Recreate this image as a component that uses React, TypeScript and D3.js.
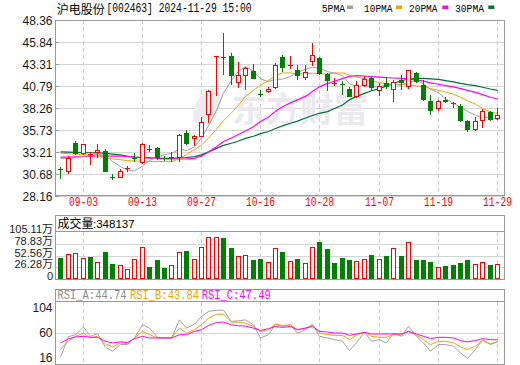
import React from "react";
import * as d3 from "d3";

// trading days shown (08-29 .. 11-29)
const dates = [
  "08-29", "08-30", "09-02", "09-03", "09-04", "09-05", "09-06", "09-09", "09-10", "09-11",
  "09-12", "09-13", "09-18", "09-19", "09-20", "09-23", "09-24", "09-25", "09-26", "09-27",
  "09-30", "10-08", "10-09", "10-10", "10-11", "10-14", "10-15", "10-16", "10-17", "10-18",
  "10-21", "10-22", "10-23", "10-24", "10-25", "10-28", "10-29", "10-30", "10-31", "11-01",
  "11-04", "11-05", "11-06", "11-07", "11-08", "11-11", "11-12", "11-13", "11-14", "11-15",
  "11-18", "11-19", "11-20", "11-21", "11-22", "11-25", "11-26", "11-27", "11-28", "11-29",
];
const dateTicks = ["09-03", "09-13", "09-27", "10-16", "10-28", "11-07", "11-19", "11-29"];

const open = [
  31.18, 30.84, 34.22, 32.92, 32.95, 33.03, 33.3, 30.3, 30.23, 31.22,
  32.5, 31.88, 33.5, 33.65, 32.55, 32.45, 32.45, 35.37, 34.65, 34.95,
  37.45, 44.2, 44.05, 44.29, 41.1, 42.0, 42.56, 39.85, 40.14, 40.53,
  44.18, 43.1, 42.64, 41.68, 43.52, 44.06, 42.14, 41.05, 41.0, 40.45,
  39.56, 40.83, 41.68, 40.22, 41.1, 40.33, 41.49, 40.72, 42.26, 40.91,
  39.06, 38.14, 39.2, 38.85, 38.53, 36.76, 35.72, 36.76, 37.83, 36.95,
];
const high = [
  31.5, 32.7, 34.45, 34.15, 33.22, 34.11, 33.53, 30.61, 31.22, 31.61,
  33.03, 34.22, 33.99, 33.75, 32.76, 33.22, 35.3, 35.72, 35.2, 37.26,
  40.33, 44.24, 46.87, 44.56, 43.52, 43.02, 43.29, 40.33, 40.72, 43.41,
  44.37, 44.29, 43.22, 43.22, 45.71, 44.18, 42.26, 41.68, 41.37, 40.72,
  41.37, 41.99, 41.87, 41.1, 41.87, 41.49, 42.06, 42.68, 42.37, 41.49,
  39.76, 39.18, 39.56, 38.99, 38.68, 36.87, 37.26, 38.14, 37.91, 38.22,
];
const low = [
  30.07, 30.69, 32.84, 32.84, 31.69, 32.45, 30.84, 29.96, 30.15, 30.92,
  32.07, 31.8, 33.22, 32.3, 32.19, 32.07, 32.07, 34.0, 33.88, 34.88,
  36.49, 39.6, 42.06, 40.91, 40.6, 40.33, 41.55, 39.56, 39.95, 40.45,
  42.45, 42.75, 41.49, 41.49, 43.14, 42.06, 40.22, 40.83, 39.8, 39.5,
  39.37, 40.72, 40.22, 39.68, 40.45, 38.91, 40.33, 40.45, 41.1, 39.06,
  37.45, 37.91, 38.8, 38.22, 36.7, 35.45, 35.6, 35.99, 36.76, 36.87,
];
const close = [
  31.1, 32.53, 32.92, 34.07, 33.0, 33.41, 30.92, 30.2, 30.99, 31.3,
  32.42, 34.07, 33.42, 32.55, 32.45, 32.65, 35.15, 34.11, 35.03, 36.61,
  40.22, 44.24, 44.18, 41.95, 42.05, 42.83, 41.6, 39.74, 40.45, 43.22,
  42.91, 43.25, 41.95, 42.37, 44.37, 42.14, 41.41, 41.15, 40.9, 39.56,
  40.91, 41.6, 40.53, 40.83, 40.72, 41.22, 41.1, 42.6, 41.29, 39.18,
  37.95, 39.06, 39.0, 38.75, 36.76, 35.72, 36.76, 37.91, 36.87, 37.45,
];
// volume in 万手
const volume = [
  47.9, 55.4, 57.7, 47.9, 49.4, 37.4, 60.6, 33.7, 30.7, 22.5,
  44.9, 71.1, 27.0, 42.7, 24.7, 30.7, 59.9, 62.9, 44.9, 71.1,
  93.6, 93.6, 92.1, 69.6, 50.9, 53.2, 42.7, 44.9, 37.4, 68.9,
  60.6, 39.7, 44.9, 35.2, 71.1, 83.1, 67.4, 35.9, 47.2, 42.7,
  40.4, 44.9, 53.9, 44.2, 51.7, 68.9, 51.7, 82.4, 42.7, 42.7,
  38.2, 26.2, 29.2, 31.4, 35.2, 42.7, 32.9, 37.4, 31.4, 34.81,
];

const ma5 = [
  32.45, 32.45, 32.55, 32.7, 32.75, 32.95, 32.8, 32.1, 31.5, 31.1,
  31.0, 31.55, 32.2, 32.6, 32.9, 33.0, 33.55, 33.35, 33.8, 34.8,
  36.2, 38.0, 39.96, 41.44, 42.51, 43.03, 42.51, 41.62, 41.31, 41.57,
  41.58, 41.91, 42.36, 42.74, 42.97, 42.82, 42.45, 42.29, 42.0, 41.03,
  40.79, 40.82, 40.7, 40.69, 40.92, 40.98, 40.88, 41.29, 41.39, 41.08,
  40.42, 40.02, 39.32, 38.81, 38.32, 37.88, 37.42, 37.18, 37.2, 36.94,
];
const ma10 = [
  33.05, 33.0, 32.95, 32.9, 32.8, 32.7, 32.55, 32.4, 32.3, 32.2,
  32.15, 32.12, 32.1, 32.1, 32.08, 32.07, 32.4, 32.9, 33.45, 34.0,
  34.8, 35.8, 36.8, 37.7, 38.6, 39.6, 40.3, 40.9, 41.4, 42.0,
  42.3, 42.3, 42.2, 42.2, 42.27, 42.2, 42.18, 42.3, 42.3, 42.05,
  41.85, 41.6, 41.4, 41.2, 41.05, 41.0, 40.95, 40.95, 40.8, 40.7,
  40.5, 40.3, 40.1, 39.85, 39.5, 39.1, 38.7, 38.2, 37.8, 37.63,
];
const ma20 = [
  32.6, 32.6, 32.62, 32.65, 32.68, 32.7, 32.72, 32.72, 32.7, 32.68,
  32.6, 32.55, 32.5, 32.45, 32.4, 32.38, 32.38, 32.4, 32.45, 32.7,
  33.2, 33.8, 34.4, 34.8, 35.2, 35.6, 36.1, 36.7, 37.2, 37.9,
  38.4, 38.85, 39.2, 39.6, 40.15, 40.7, 41.1, 41.35, 41.65, 41.9,
  42.0, 41.95, 41.88, 41.82, 41.76, 41.72, 41.68, 41.6, 41.5, 41.35,
  41.15, 41.0, 40.85, 40.7, 40.5, 40.3, 40.06, 39.8, 39.5, 39.3,
];
const ma30 = [
  33.2, 33.18, 33.15, 33.12, 33.1, 33.08, 33.05, 32.95, 32.85, 32.7,
  32.6, 32.55, 32.5, 32.48, 32.46, 32.46, 32.5, 32.55, 32.65, 32.85,
  33.2, 33.6, 33.95, 34.2, 34.45, 34.75, 35.0, 35.3, 35.55, 35.9,
  36.2, 36.5, 36.75, 37.1, 37.4, 37.65, 37.85, 38.2, 38.6, 39.2,
  39.6, 39.95, 40.25, 40.5, 40.8, 41.1, 41.4, 41.6, 41.68, 41.68,
  41.62, 41.55, 41.42, 41.28, 41.1, 40.95, 40.83, 40.65, 40.45, 40.3,
];

const rsiA = [
  17.1, 53.0, 56.5, 69.9, 53.6, 58.3, 34.5, 27.5, 39.1, 39.1,
  50.7, 73.9, 68.1, 51.9, 50.7, 50.7, 82.6, 68.1, 75.1, 88.4,
  97.5, 99.5, 99.5, 79.7, 80.9, 82.6, 73.9, 50.7, 56.5, 75.1,
  71.0, 73.9, 59.4, 65.2, 75.1, 53.6, 50.7, 47.8, 44.9, 28.7,
  42.0, 61.2, 44.9, 47.8, 42.0, 59.4, 53.6, 71.0, 53.6, 42.0,
  27.5, 39.1, 39.1, 36.2, 24.7, 14.8, 30.4, 47.8, 39.1, 44.74,
];
const rsiB = [
  30.4, 46.1, 53.6, 59.4, 50.7, 53.6, 40.3, 35.1, 42.0, 40.9,
  50.7, 62.3, 56.5, 50.7, 50.7, 50.7, 68.1, 59.4, 65.2, 73.9,
  85.5, 92.5, 92.5, 78.6, 78.6, 76.8, 71.0, 62.3, 65.2, 75.1,
  72.8, 73.9, 65.2, 68.1, 72.8, 59.4, 56.5, 55.4, 55.4, 47.8,
  55.4, 61.2, 53.6, 51.9, 51.9, 56.5, 56.5, 62.3, 55.4, 47.8,
  39.1, 44.9, 44.9, 42.0, 35.1, 30.4, 36.2, 46.1, 40.3, 43.84,
];
const rsiC = [
  42.0, 49.0, 52.5, 53.6, 51.9, 51.9, 44.9, 42.0, 43.8, 42.6,
  49.6, 53.6, 50.7, 50.7, 50.7, 50.7, 56.5, 56.5, 62.3, 65.2,
  72.8, 78.0, 78.6, 73.9, 72.2, 71.6, 68.1, 64.0, 67.0, 71.0,
  69.3, 71.0, 65.2, 68.1, 71.0, 62.3, 61.2, 59.4, 59.4, 55.4,
  57.7, 60.6, 57.7, 57.7, 57.7, 57.7, 57.7, 62.3, 57.7, 53.6,
  49.6, 51.9, 51.9, 50.7, 46.1, 43.8, 46.1, 49.6, 47.8, 47.49,
];

const priceTicks = ["48.36", "45.84", "43.31", "40.79", "38.26", "35.73", "33.21", "30.68", "28.16"];
const volTicks = [105.11, 78.83, 52.56, 26.28, 0];
const volTickLabels = ["105.11万", "78.83万", "52.56万", "26.28万", "0"];
const rsiTicks = [104, 60, 16];

const RED = "#ff0000";
const GREEN = "#008000";
const C5 = "#a0a0a0";
const C10 = "#f5a000";
const C20 = "#ff00ff";
const C30 = "#00703a";
const FRAME = "#999999";
const GRID = "#d4d4d4";
const MONO = "'Liberation Mono', monospace";
const SANS = "'Liberation Sans', Arial, sans-serif";
const CJK = "'Noto Sans CJK SC', sans-serif";

const L = 55;
const R = 505;

export default function App() {
  const x = d3.scaleBand<string>().domain(dates).range([56.6, 500.6]);
  const cx = (i: number) => Math.round(x(dates[i])! + x.bandwidth() / 2);
  const yP = d3.scaleLinear().domain([28.16, 48.36]).range([195.6, 20.4]);
  const yV = d3.scaleLinear().domain([0, 105.11]).range([279, 232.2]);
  const yR = d3.scaleLinear().domain([16, 104]).range([357.7, 307.7]);

  const mkLine = (scale: d3.ScaleLinear<number, number>, arr: number[]) =>
    d3
      .line<number>()
      .x((_, i) => cx(i) + 0.5)
      .y((v) => scale(v))(arr) || "";

  const dashX = dateTicks.map((d) => Math.round(x(d)! + x.bandwidth() / 2) + 0.5);

  return (
    <svg
      width={520}
      height={365}
      style={{ position: "absolute", left: 0, top: 0, background: "#fff" }}
    >
      <rect x={0} y={0} width={520} height={365} fill="#fff" />

      {/* title */}
      <text x={56.7} y={13.5} fontSize={12} fontFamily={CJK} fill="#000">
        沪电股份
      </text>
      <text
        x={106.5}
        y={12}
        fontSize={12}
        fontFamily={MONO}
        fill="#000"
        textLength={145}
        lengthAdjust="spacingAndGlyphs"
      >
        [002463] 2024-11-29 15:00
      </text>

      {/* legend */}
      {[
        { t: "5PMA", x0: 321.7, w: 23.5, sx: 347, c: C5 },
        { t: "10PMA", x0: 364, w: 28.5, sx: 396, c: C10 },
        { t: "20PMA", x0: 409, w: 28.5, sx: 442.3, c: C20 },
        { t: "30PMA", x0: 455, w: 29, sx: 488.3, c: C30 },
      ].map((d) => (
        <g key={d.t}>
          <text
            x={d.x0}
            y={11.5}
            fontSize={11}
            fontFamily={MONO}
            fill="#000"
            textLength={d.w}
            lengthAdjust="spacingAndGlyphs"
          >
            {d.t}
          </text>
          <rect x={d.sx} y={5.5} width={6} height={3.5} fill={d.c} />
        </g>
      ))}

      {/* main price panel grid */}
      {priceTicks.map((t) => (
        <line key={t} x1={L} x2={R} y1={Math.round(yP(+t)) + 0.5} y2={Math.round(yP(+t)) + 0.5} stroke={GRID} />
      ))}
      {dashX.map((xx, k) => (
        <line key={k} x1={xx} x2={xx} y1={20} y2={196} stroke="#cccccc" strokeDasharray="4,3" />
      ))}

      {/* watermark */}
      <ellipse cx={207} cy={108} rx={12} ry={20} transform="rotate(25 207 108)" fill="#ececf0" />
      <text x={232} y={122} fontSize={34} fontWeight="bold" fontFamily={CJK} fill="#e9e9ee">
        东方财富
      </text>

      {/* MA lines */}
      <path d={mkLine(yP, ma30)} fill="none" stroke={C30} strokeWidth={1.2} />
      <path d={mkLine(yP, ma20)} fill="none" stroke={C20} strokeWidth={1.2} />
      <path d={mkLine(yP, ma10)} fill="none" stroke={C10} strokeWidth={1} />
      <path d={mkLine(yP, ma5)} fill="none" stroke={C5} strokeWidth={1} />

      {/* candles */}
      {dates.map((d, i) => {
        const c = cx(i);
        const up = close[i] >= open[i];
        const col = up ? RED : GREEN;
        const top = Math.round(yP(Math.max(open[i], close[i])));
        const bot = Math.round(yP(Math.min(open[i], close[i])));
        const hi = Math.round(yP(high[i]));
        const lo = Math.round(yP(low[i]));
        const bh = Math.max(1, bot - top);
        return (
          <g key={d}>
            {up ? (
              <>
                <line x1={c + 0.5} x2={c + 0.5} y1={hi} y2={top} stroke={col} />
                <line x1={c + 0.5} x2={c + 0.5} y1={top + bh} y2={lo} stroke={col} />
                {bh > 2 ? (
                  <rect x={c - 1.5} y={top + 0.5} width={4} height={bh - 1} fill="#fff" stroke={col} />
                ) : (
                  <rect x={c - 2} y={top} width={5} height={bh} fill={col} />
                )}
              </>
            ) : (
              <>
                <line x1={c + 0.5} x2={c + 0.5} y1={hi} y2={lo} stroke={col} />
                <rect x={c - 2} y={top} width={5} height={bh} fill={col} />
              </>
            )}
          </g>
        );
      })}

      {/* main frame */}
      <rect x={L + 0.5} y={20.5} width={R - L - 1} height={175} fill="none" stroke={FRAME} />
      {priceTicks.map((t) => {
        const yy = Math.round(yP(+t)) + 0.5;
        return (
          <g key={t}>
            <line x1={L} x2={L + 4} y1={yy} y2={yy} stroke={FRAME} />
            <text x={52.5} y={yy} dy="0.35em" textAnchor="end" fontSize={12} fontFamily={SANS} fill="#1a1a1a">
              {t}
            </text>
          </g>
        );
      })}

      {/* date labels */}
      {dateTicks.map((t, k) => (
        <text
          key={t}
          x={dashX[k] - 14.5}
          y={206}
          fontSize={12}
          fontFamily={MONO}
          fill={RED}
          textLength={29}
          lengthAdjust="spacingAndGlyphs"
        >
          {t}
        </text>
      ))}

      {/* volume panel */}
      {volTicks.slice(1, 4).map((v) => (
        <line key={v} x1={L} x2={R} y1={Math.round(yV(v)) + 0.5} y2={Math.round(yV(v)) + 0.5} stroke={GRID} />
      ))}
      {dashX.map((xx, k) => (
        <line key={k} x1={xx} x2={xx} y1={232} y2={279} stroke="#cccccc" strokeDasharray="4,3" />
      ))}
      {volume.map((v, i) => {
        const c = cx(i);
        const up = i === 0 ? close[0] >= open[0] : close[i] >= close[i - 1];
        const top = Math.round(yV(v));
        const h = 279 - top;
        return up ? (
          <rect key={i} x={c - 1.5} y={top + 0.5} width={4} height={h - 1} fill="#fff" stroke={RED} />
        ) : (
          <rect key={i} x={c - 2} y={top} width={5} height={h} fill={GREEN} />
        );
      })}
      <rect x={L + 0.5} y={215.5} width={R - L - 1} height={64} fill="none" stroke={FRAME} />
      <line x1={L} x2={R} y1={231.5} y2={231.5} stroke={FRAME} />
      <text x={57.5} y={228} fontSize={12} fontFamily={CJK} fill="#000">
        成交量
      </text>
      <text x={93} y={227.5} fontSize={11.5} fontFamily={SANS} fill="#000">
        :348137
      </text>
      {volTicks.map((v, k) => (
        <text
          key={v}
          x={53}
          y={Math.round(yV(v)) - 2.5}
          dy="0.35em"
          textAnchor="end"
          fontSize={11}
          fontFamily={`${SANS.split(",")[0]}, ${CJK}`}
          fill="#1a1a1a"
        >
          {volTickLabels[k]}
        </text>
      ))}

      {/* RSI panel */}
      <line x1={L} x2={R} y1={Math.round(yR(60)) + 0.5} y2={Math.round(yR(60)) + 0.5} stroke={GRID} />
      {dashX.map((xx, k) => (
        <line key={k} x1={xx} x2={xx} y1={302} y2={364} stroke="#cccccc" strokeDasharray="4,3" />
      ))}
      <path d={mkLine(yR, rsiA)} fill="none" stroke={C5} strokeWidth={1} />
      <path d={mkLine(yR, rsiB)} fill="none" stroke={C10} strokeWidth={1} />
      <path d={mkLine(yR, rsiC)} fill="none" stroke={C20} strokeWidth={1} />
      <rect x={L + 0.5} y={289.5} width={R - L - 1} height={75} fill="none" stroke={FRAME} />
      <line x1={L} x2={R} y1={301.5} y2={301.5} stroke={FRAME} />
      {[
        { t: "RSI_A:44.74", x0: 57.5, c: "#8c8c8c" },
        { t: "RSI_B:43.84", x0: 130, c: C10 },
        { t: "RSI_C:47.49", x0: 201.7, c: C20 },
      ].map((d) => (
        <text
          key={d.t}
          x={d.x0}
          y={299}
          fontSize={12}
          fontFamily={MONO}
          fill={d.c}
          textLength={69}
          lengthAdjust="spacingAndGlyphs"
        >
          {d.t}
        </text>
      ))}
      {rsiTicks.map((v) => (
        <text key={v} x={52.5} y={yR(v)} dy="0.35em" textAnchor="end" fontSize={12} fontFamily={SANS} fill="#1a1a1a">
          {v}
        </text>
      ))}
    </svg>
  );
}
